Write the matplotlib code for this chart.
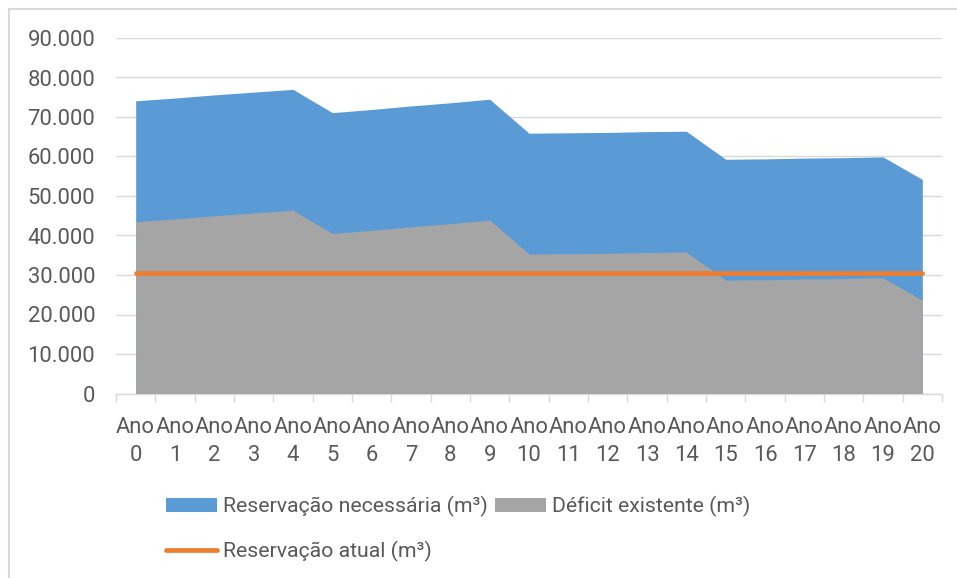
import matplotlib
matplotlib.use("Agg")
import matplotlib.pyplot as plt
import matplotlib.patches as mpatches
from matplotlib.ticker import FuncFormatter

# Values (m³)
anos = list(range(21))
reservacao_necessaria = [74100, 74800, 75600, 76300, 77000, 71100, 71900, 72800, 73600, 74500,
                         65900, 66000, 66100, 66300, 66400, 59300, 59400, 59600, 59700, 59900, 54200]
deficit_existente = [43500, 44200, 45000, 45700, 46400, 40500, 41300, 42200, 43000, 43900,
                     35300, 35400, 35500, 35700, 35800, 28700, 28800, 29000, 29100, 29300, 23600]
reservacao_atual = [30600] * 21
x_labels = [f"Ano\n{a}" for a in anos]

blue = "#5B9BD5"
gray = "#A5A5A5"
orange = "#ED7D31"
txt = "#595959"
grid = "#D9D9D9"

plt.rcParams['font.family'] = ['Roboto', 'DejaVu Sans']
fs = 15.8

fig = plt.figure(figsize=(9.57, 5.78), dpi=100)
ax = fig.add_axes([116 / 957, 1 - 393.5 / 578, (942 - 116) / 957, (393.5 - 38) / 578])

ax.fill_between(anos, 0, reservacao_necessaria, color=blue, linewidth=0,
                label="Reservação necessária (m³)", zorder=2)
ax.fill_between(anos, 0, deficit_existente, color=gray, linewidth=0,
                label="Déficit existente (m³)", zorder=3)
ax.plot(anos, reservacao_atual, color=orange, linewidth=3.4, solid_capstyle='round',
        label="Reservação atual (m³)", zorder=4)

ax.set_xlim(-0.5, 20.5)
ax.set_ylim(0, 90000)
ax.set_yticks(range(0, 90001, 10000))
ax.yaxis.set_major_formatter(FuncFormatter(lambda v, p: f"{int(v):,}".replace(",", ".")))
ax.grid(axis='y', color=grid, linewidth=1.0, zorder=0)
ax.set_axisbelow(True)

ax.set_xticks(anos)
ax.set_xticklabels(x_labels, linespacing=1.4)
ax.set_xticks([i - 0.5 for i in range(22)], minor=True)
ax.tick_params(axis='x', which='major', length=0, pad=17, labelsize=fs, labelcolor=txt)
ax.tick_params(axis='x', which='minor', length=6, width=1, color=grid)
ax.tick_params(axis='y', length=0, pad=15, labelsize=fs, labelcolor=txt)

for s in ['top', 'right', 'left']:
    ax.spines[s].set_visible(False)
ax.spines['bottom'].set_color(grid)
ax.spines['bottom'].set_linewidth(1.0)

h, l = ax.get_legend_handles_labels()
# order so that ncol=2 gives: row1 blue, gray; row2 orange
order = [0, 2, 1]
fig.legend([h[i] for i in order], [l[i] for i in order], ncol=2, frameon=False,
           loc='upper left', bbox_to_anchor=(166 / 957, 1 - 496 / 578),
           fontsize=15.3, labelcolor=txt, handlelength=2.4, handleheight=0.6,
           handletextpad=0.3, columnspacing=0.3, labelspacing=1.1,
           borderpad=0, borderaxespad=0)

# outer chart border (cropped at right and bottom)
fig.add_artist(mpatches.Rectangle((9 / 957, -0.1), 1.2, 1.1 - 9 / 578,
                                  transform=fig.transFigure, fill=False,
                                  edgecolor=grid, linewidth=1.5))

fig.savefig("out.png", dpi=100)
